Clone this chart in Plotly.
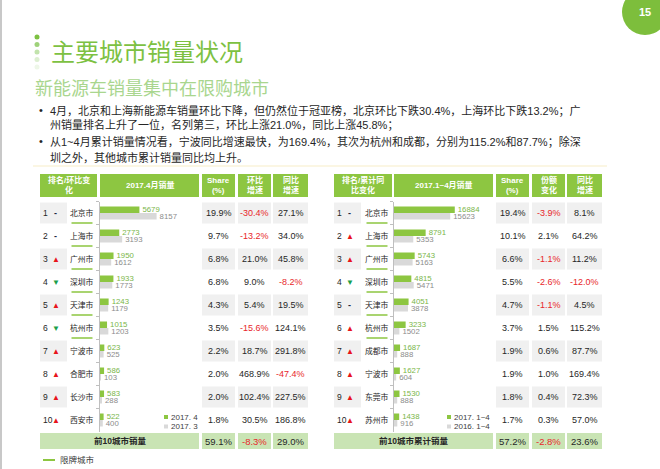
import plotly.graph_objects as go

# ---- data ----
l_cities = ["北京市", "上海市", "广州市", "深圳市", "天津市", "杭州市", "宁波市", "合肥市", "长沙市", "西安市"]
l_apr = [5679, 2773, 1950, 1933, 1243, 1015, 623, 586, 583, 522]
l_mar = [8157, 3193, 1612, 1773, 1179, 1203, 525, 103, 288, 400]
l_share = [19.9, 9.7, 6.8, 6.8, 4.3, 3.5, 2.2, 2.0, 2.0, 1.8]
l_mom = [-30.4, -13.2, 21.0, 9.0, 5.4, -15.6, 18.7, 468.9, 102.4, 30.5]
l_yoy = [27.1, 34.0, 45.8, -8.2, 19.5, 124.1, 291.8, -47.4, 227.5, 186.8]
l_move = ["-", "-", "up", "down", "up", "down", "up", "up", "up", "up"]
l_total = [59.1, -8.3, 29.0]

r_cities = ["北京市", "上海市", "广州市", "深圳市", "天津市", "杭州市", "成都市", "宁波市", "东莞市", "苏州市"]
r_2017 = [16884, 8791, 5743, 4815, 4051, 3233, 1687, 1627, 1530, 1438]
r_2016 = [15623, 5353, 5163, 5471, 3878, 1502, 888, 604, 888, 916]
r_share = [19.4, 10.1, 6.6, 5.5, 4.7, 3.7, 1.9, 1.9, 1.8, 1.7]
r_chg = [-3.9, 2.1, -1.1, -2.6, -1.1, 1.5, 0.6, 1.0, 0.4, 0.3]
r_yoy = [8.1, 64.2, 11.2, -12.0, 4.5, 115.2, 87.7, 169.4, 72.3, 57.0]
r_move = ["-", "up", "up", "down", "-", "up", "up", "up", "up", "up"]
r_total = [57.2, -2.8, 23.6]

restricted = ["北京市", "上海市", "广州市", "深圳市", "天津市", "杭州市"]

l_headers = ["排名/环比变<br>化", "2017.4月销量", "Share<br>(%)", "环比<br>增速", "同比<br>增速"]
r_headers = ["排名/累计同<br>比变化", "2017.1~4月销量", "Share<br>(%)", "份额<br>变化", "同比<br>增速"]
l_legend = ["2017. 4", "2017. 3"]
r_legend = ["2017. 1~4", "2016. 1~4"]

bullets = [
    ["4月，北京和上海新能源车销量环比下降，但仍然位于冠亚榜，北京环比下跌30.4%，上海环比下跌13.2%；广",
     "州销量排名上升了一位，名列第三，环比上涨21.0%，同比上涨45.8%；"],
    ["从1~4月累计销量情况看，宁波同比增速最快，为169.4%，其次为杭州和成都，分别为115.2%和87.7%；除深",
     "圳之外，其他城市累计销量同比均上升。"],
]

# ---- style ----
W, H = 660, 469
FONT = "Liberation Sans, Noto Sans CJK SC, sans-serif"
GREEN = "#8DC641"
LGREEN = "#C9E4B4"
GRAY_CELL = "#F0F0F0"
GRAY_BAR = "#D9D9D9"
RED = "#E8262B"
TXT = "#262626"


def X(x):
    return x / W


def Y(y):
    return 1 - y / H


fig = go.Figure()


def rect(x0, y0, x1, y1, color):
    fig.add_shape(type="rect", xref="paper", yref="paper", x0=X(x0), x1=X(x1), y0=Y(y1), y1=Y(y0),
                  fillcolor=color, line_width=0, layer="below")


def line(x0, y0, x1, y1, color, w=1.5):
    fig.add_shape(type="line", xref="paper", yref="paper", x0=X(x0), x1=X(x1), y0=Y(y0), y1=Y(y1),
                  line=dict(color=color, width=w))


def text(x, y, s, size=8.5, color=TXT, anchor="center", bold=False):
    if bold:
        s = "<b>" + s + "</b>"
    fig.add_annotation(x=X(x), y=Y(y), xref="paper", yref="paper", text=s, showarrow=False,
                       xanchor=anchor, yanchor="middle", font=dict(family=FONT, size=size, color=color))


# ---- page decoration ----
line(1, 0, 1, H, "#C8C8C8", 2)
fig.add_shape(type="circle", xref="paper", yref="paper", x0=X(622), x1=X(668), y0=Y(35), y1=Y(-11),
              fillcolor="#7DBE3C", line_width=0)
text(645, 12, "15", size=11, color="white", bold=True)
for i, c in enumerate(["#7DC142", "#9FD27A", "#C2E3AC", "#DDEFD1", "#EEF7E8"]):
    cy = 37 + 7.5 * i
    fig.add_shape(type="circle", xref="paper", yref="paper", x0=X(34.5), x1=X(39.5), y0=Y(cy + 2.5),
                  y1=Y(cy - 2.5), fillcolor=c, line_width=0)
text(49, 53, "主要城市销量状况", size=24, color="#7DC142", anchor="left")
text(33, 89, "新能源车销量集中在限购城市", size=18, color="#A9D68E", anchor="left")
ly = [110, 125, 141, 157]
k = 0
for b in bullets:
    text(37, ly[k], "•", size=11, color=TXT, anchor="left")
    for s in b:
        text(48, ly[k], s, size=11, color=TXT, anchor="left")
        k += 1
line(33, 166, 607, 166, "#FBF6E3", 2)

# ---- tables ----
row_y = [213 + 23 * i for i in range(10)]


def table(cols, headers, cities, share, c4, c5, move, total, legend, footer_label, lx):
    for (a, b), h in zip(cols, headers):
        rect(a, 174, b, 197, GREEN)
        text((a + b) / 2, 185.5, h, size=8, color="white", bold=True)
    for i, cy in enumerate(row_y):
        if i % 2 == 0:
            rect(cols[0][0], cy - 10.5, cols[0][0] + 27, cy + 10.5, GRAY_CELL)
            for a, b in cols[2:]:
                rect(a, cy - 10.5, b, cy + 10.5, GRAY_CELL)
        x0 = cols[0][0]
        text(x0 + 1, cy, str(i + 1), size=8.5, anchor="left")
        if move[i] == "up":
            text(x0 + 15.5, cy, "▲", size=8, color="#E8141B")
        elif move[i] == "down":
            text(x0 + 15.5, cy, "▼", size=8, color="#1A9E4A")
        else:
            text(x0 + 15.5, cy, "<b>-</b>", size=9, color="#1F2A44")
        cx = cols[0][1] - 15
        text(cx, cy, cities[i], size=7.8)
        if cities[i] in restricted:
            line(cx - 10.5, cy + 10, cx + 10.5, cy + 10, GREEN, 1.5)
        for (a, b), v in zip(cols[2:], [share[i], c4[i], c5[i]]):
            text((a + b) / 2, cy, f"{v:.1f}%", size=9, color=RED if v < 0 else TXT)
    rect(cols[0][0], 433, cols[1][1], 449, LGREEN)
    text((cols[0][0] + cols[1][1]) / 2, 441, footer_label, size=8.5, bold=True)
    for (a, b), v in zip(cols[2:], total):
        rect(a, 433, b, 449, LGREEN)
        text((a + b) / 2, 441, f"{v:.1f}%", size=9.5, color=RED if v < 0 else TXT)
    for j, (lab, c) in enumerate(zip(legend, [GREEN, GRAY_BAR])):
        yy = 417 + 9.5 * j
        rect(lx - 2, yy - 2, lx + 2, yy + 2, c)
        text(lx + 3, yy, lab, size=8, color="#404040", anchor="left")


l_cols = [(40, 97), (100, 199), (202, 235), (238, 271), (273, 308)]
r_cols = [(334, 392), (394, 493), (496, 529), (532, 565), (567, 602)]
table(l_cols, l_headers, l_cities, l_share, l_mom, l_yoy, l_move, l_total, l_legend, "前10城市销量", 166)
table(r_cols, r_headers, r_cities, r_share, r_chg, r_yoy, r_move, r_total, r_legend, "前10城市累计销量", 449)

line(43, 460, 55, 460, GREEN, 2)
text(58, 460, "限牌城市", size=8.5, color="#404040", anchor="left")

# ---- bars ----
def bars(y, x, color, tcolor, xa, ya):
    fig.add_trace(go.Bar(y=y, x=x, orientation="h", marker_color=color, marker_line_width=0,
                         text=[str(v) for v in x], textposition="outside", constraintext="none",
                         textfont=dict(family=FONT, size=7.8, color=tcolor), cliponaxis=False,
                         xaxis=xa, yaxis=ya, hoverinfo="skip", showlegend=False))


bars(l_cities, l_apr, GREEN, "#7AB648", "x", "y")
bars(l_cities, l_mar, GRAY_BAR, "#8C8C8C", "x", "y")
bars(r_cities, r_2017, GREEN, "#7AB648", "x2", "y2")
bars(r_cities, r_2016, GRAY_BAR, "#8C8C8C", "x2", "y2")

yax = dict(domain=[Y(431.5), Y(201.5)], type="category", range=[9.5, -0.5], showline=True,
           linecolor="#BFBFBF", linewidth=1, ticks="outside", ticklen=3, tickcolor="#BFBFBF",
           tickson="boundaries", showticklabels=False, showgrid=False, zeroline=False)

fig.update_layout(
    width=W, height=H, margin=dict(l=0, r=0, t=0, b=0),
    paper_bgcolor="white", plot_bgcolor="rgba(0,0,0,0)",
    barmode="group", bargap=0.43, bargroupgap=0,
    xaxis=dict(domain=[X(100), X(199)], range=[0, 14265], visible=False, anchor="y"),
    yaxis=dict(yax, anchor="x", categoryorder="array", categoryarray=l_cities),
    xaxis2=dict(domain=[X(394), X(493)], range=[0, 27500], visible=False, anchor="y2"),
    yaxis2=dict(yax, anchor="x2", categoryorder="array", categoryarray=r_cities),
    font=dict(family=FONT),
)

# page body has a default 8px margin; drop it so the slide fills the window
fig.write_html("out.html", config={"displayModeBar": False},
               post_script="document.body.style.margin='0';")
